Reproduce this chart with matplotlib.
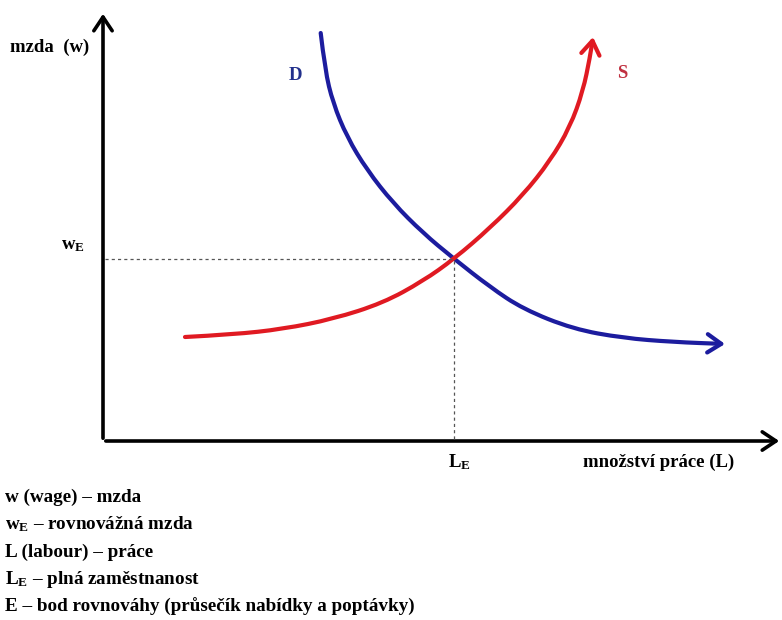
import numpy as np
import matplotlib.pyplot as plt
from matplotlib.path import Path
from matplotlib.patches import FancyArrowPatch

plt.rcParams['font.family'] = 'Liberation Serif'
plt.rcParams['font.weight'] = 'bold'
plt.rcParams['mathtext.fontset'] = 'custom'
plt.rcParams['mathtext.rm'] = 'Liberation Serif:bold'
plt.rcParams['mathtext.it'] = 'Liberation Serif:bold'
plt.rcParams['mathtext.bf'] = 'Liberation Serif:bold'

# Demand (D) and supply (S) of labour
demand_L = [217.7, 222, 230, 244, 264, 290, 320, 350, 387, 420, 470, 520, 570, 622]
demand_w = [408, 371, 338, 304, 271, 238, 208, 183, 154, 132, 112, 103, 99, 97]
supply_L = [82, 130, 180, 230, 280, 320, 351, 387, 420, 447, 467, 480, 487, 490]
supply_w = [104, 106.5, 112, 122, 138, 160, 182, 213, 246, 280, 314, 350, 384, 404]

# Equilibrium point E
eq_L, eq_w = 351, 182

legend_lines = [
    'w (wage) – mzda',
    'w$_{\\rm E}$ – rovnovážná mzda',
    'L (labour) – práce',
    'L$_{\\rm E}$ – plná zaměstnanost',
    'E – bod rovnováhy (průsečík nabídky a poptávky)',
]

blue = '#1c1c9e'
red = '#e01a22'


def smooth_path(xs, ys):
    # quadratic bezier through midpoints, so the polyline is drawn smoothly
    pts = np.column_stack([xs, ys]).astype(float)
    verts = [pts[0]]
    codes = [Path.MOVETO]
    for i in range(1, len(pts) - 1):
        verts += [pts[i], (pts[i] + pts[i + 1]) / 2]
        codes += [Path.CURVE3, Path.CURVE3]
    verts.append(pts[-1])
    codes.append(Path.LINETO)
    return Path(verts, codes)


fig = plt.figure(figsize=(7.82, 6.2), dpi=100)
ax = fig.add_axes([0, 0, 1, 1])
ax.set_xlim(-103, 679)
ax.set_ylim(-179, 441)
ax.axis('off')

# axes with arrows
arrow_style = '->,head_length=0.45,head_width=0.3'
ax.add_patch(FancyArrowPatch((0, 0), (0, 430), arrowstyle=arrow_style,
                             mutation_scale=22, lw=2.6, color='black'))
ax.add_patch(FancyArrowPatch((0, 0), (679, 0), arrowstyle=arrow_style,
                             mutation_scale=22, lw=2.6, color='black'))

# dashed guides to the equilibrium
ax.plot([2, eq_L], [eq_w, eq_w], ls=(0, (2.5, 2.5)), lw=0.9, color='#555555')
ax.plot([eq_L, eq_L], [2, eq_w], ls=(0, (2.5, 2.5)), lw=0.9, color='#555555')

# curves
ax.add_patch(FancyArrowPatch(path=smooth_path(demand_L, demand_w),
                             arrowstyle=arrow_style, mutation_scale=22,
                             lw=3, color=blue))
ax.add_patch(FancyArrowPatch(path=smooth_path(supply_L, supply_w),
                             arrowstyle=arrow_style, mutation_scale=22,
                             lw=3, color=red))

fs = 13.5
ax.text(192, 366, 'D', color='#22308c', fontsize=fs, ha='center', va='center')
ax.text(519, 368, 'S', color='#c03040', fontsize=fs, ha='center', va='center')
ax.text(-93, 394, 'mzda  (w)', fontsize=fs, ha='left', va='center')
ax.text(-30, 196, 'w$_{\\rm E}$', fontsize=fs, ha='center', va='center')
ax.text(eq_L + 5, -21, 'L$_{\\rm E}$', fontsize=fs, ha='center', va='center')
ax.text(480, -21, 'množství práce (L)', fontsize=fs, ha='left', va='center')

for i, line in enumerate(legend_lines):
    ax.text(-98, -56 - 27.5 * i, line, fontsize=13.8, ha='left', va='center')

fig.savefig('out.png', dpi=100)
